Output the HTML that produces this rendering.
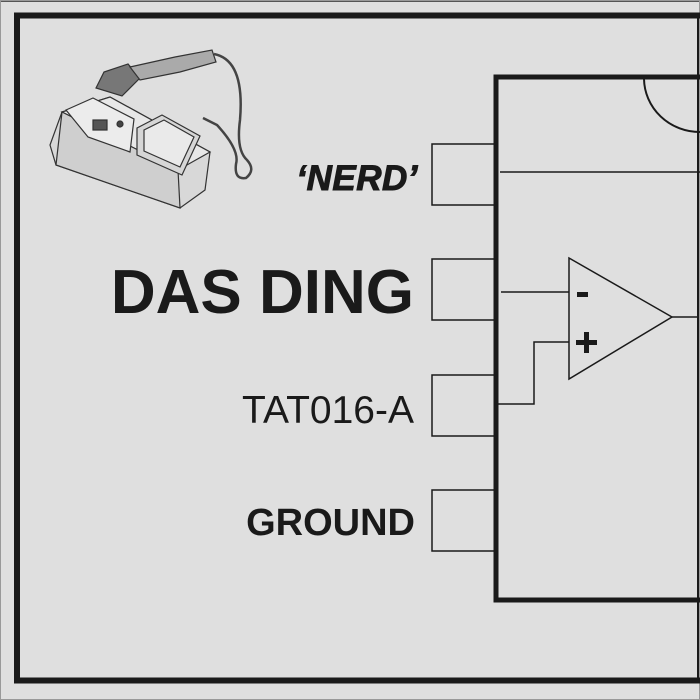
<!DOCTYPE html>
<html><head><style>
body{margin:0;width:700px;height:700px;overflow:hidden;background:#dcdcdc}
svg{position:absolute;left:0;top:0}
text{font-family:"Liberation Sans",sans-serif;fill:#1a1a1a}
</style></head><body>
<svg width="700" height="700" viewBox="0 0 700 700">
<rect x="0" y="0" width="700" height="700" fill="#dfdfdf"/>
<rect x="0" y="0" width="700" height="2" fill="#555"/>
<rect x="0.5" y="0.5" width="699" height="699" fill="none" stroke="#999" stroke-width="1"/>
<rect x="17" y="15.5" width="690" height="665" fill="none" stroke="#1a1a1a" stroke-width="6"/>
<line x1="698" y1="15" x2="698" y2="680" stroke="#1a1a1a" stroke-width="2"/>
<path d="M720 77 H496 V600 H720" fill="none" stroke="#1a1a1a" stroke-width="5"/>
<path d="M644 79 A 56 54 0 0 0 700 132" fill="none" stroke="#1a1a1a" stroke-width="2"/>
<line x1="500" y1="172" x2="700" y2="172" stroke="#1a1a1a" stroke-width="1.5"/>
<g fill="none" stroke="#1a1a1a" stroke-width="1.5">
<path d="M494 144 H432 V205 H494"/>
<path d="M494 259 H432 V320 H494"/>
<path d="M494 375 H432 V436 H494"/>
<path d="M494 490 H432 V551 H494"/>
<path d="M569 258 L672 317 L569 379 Z"/>
<line x1="672" y1="317" x2="698" y2="317"/>
<line x1="501" y1="292" x2="569" y2="292"/>
<path d="M569 342 H534 V404 H498"/>
</g>
<rect x="577" y="292" width="11" height="5" fill="#1a1a1a"/>
<rect x="576" y="340" width="21" height="5" fill="#1a1a1a"/>
<rect x="584" y="332" width="5" height="21" fill="#1a1a1a"/>
<text x="418" y="190" font-size="35" font-weight="bold" font-style="italic" text-anchor="end" stroke="#1a1a1a" stroke-width="1" letter-spacing="0.5">‘NERD’</text>
<text x="414" y="313" font-size="62" font-weight="bold" text-anchor="end">DAS DING</text>
<text x="414" y="423" font-size="39" text-anchor="end">TAT016-A</text>
<text x="415" y="535" font-size="38" font-weight="bold" text-anchor="end">GROUND</text>
<g stroke="#333" stroke-width="1.2" fill="#e4e4e4">
<path d="M50 145 L62 112 L110 97 L210 152 L205 190 L180 208 L56 165 Z" fill="#d8d8d8"/>
<path d="M62 112 L110 97 L210 152 L178 170 Z" fill="#e8e8e8"/>
<path d="M62 112 L178 170 L180 208 L56 165 Z" fill="#cfcfcf"/>
<path d="M66 110 L93 98 L134 119 L130 152 L88 137 Z" fill="#ececec"/>
<path d="M137 128 L162 115 L200 136 L182 175 L137 155 Z" fill="#d6d6d6"/>
<path d="M144 130 L164 120 L194 137 L180 167 L144 151 Z" fill="#eaeaea"/>
<rect x="93" y="120" width="14" height="10" fill="#555"/>
<circle cx="120" cy="124" r="3" fill="#444"/>
<path d="M96 88 L104 72 L128 64 L140 78 L122 96 Z" fill="#777"/>
<path d="M130 67 L175 57 L212 50 L216 62 L180 72 L140 80 Z" fill="#aaa"/>
</g>
<path d="M214 54 Q245 60 240 120 Q236 150 247 160 Q256 170 246 178 Q234 180 236 164 Q240 150 217 125 L203 118" fill="none" stroke="#444" stroke-width="2.5"/>
</svg>
</body></html>
